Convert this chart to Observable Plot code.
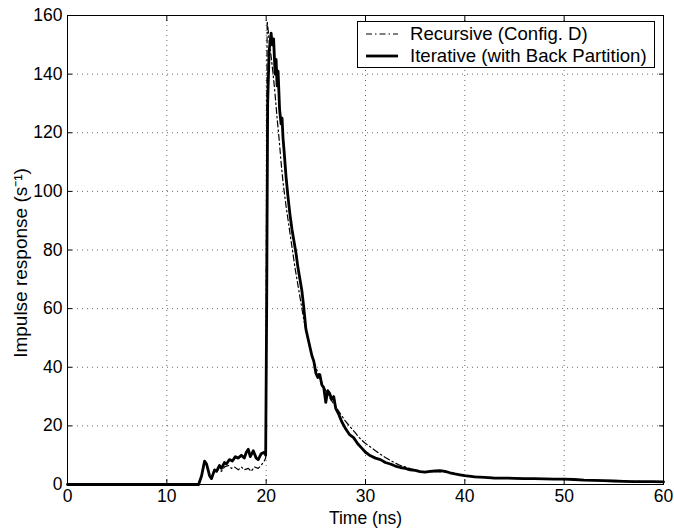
<!DOCTYPE html>
<html><head><meta charset="utf-8">
<script src="https://cdn.jsdelivr.net/npm/d3@7"></script>
<script src="https://cdn.jsdelivr.net/npm/@observablehq/plot@0.6"></script>
<style>
body{margin:0;background:#fff;font-family:"Liberation Sans",Arial,sans-serif;}
#wrap{position:relative;width:674px;height:529px;}
#legend{position:absolute;left:357px;top:21px;width:298px;height:47px;border:1px solid #000;background:#fff;font-size:18.6px;box-sizing:border-box;}
#legend .row{position:absolute;left:6px;height:21px;display:flex;align-items:center;white-space:nowrap;}
#legend svg{margin-right:10px}
</style></head>
<body><div id="wrap"><div id="legend"></div></div>
<script>
const seriesNames = ["Recursive (Config. D)", "Iterative (with Back Partition)"];
const xTicks = [0,10,20,30,40,50,60];
const yTicks = [0,20,40,60,80,100,120,140,160];

const iterT = [0,13.2,13.5,13.8,14.0,14.3,14.5,14.8,15.0,15.3,15.5,15.8,16.0,16.3,16.6,16.9,17.2,17.5,17.8,18.0,18.2,18.4,18.7,19.0,19.2,19.5,19.8,19.95,20.05,20.15,20.3,20.5,20.6,20.75,20.9,21.0,21.1,21.2,21.35,21.5,21.6,21.7,21.8,22.0,22.2,22.4,22.6,22.8,23.0,23.2,23.4,23.6,23.8,24.0,24.2,24.4,24.6,24.8,25.0,25.2,25.4,25.6,25.8,26.0,26.2,26.4,26.6,26.8,27.0,27.3,27.6,28.0,28.4,28.8,29.2,29.6,30.0,30.5,31.0,31.5,32.0,32.5,33.0,33.5,34.0,34.5,35.0,35.5,36.0,36.5,37.0,37.5,38.0,38.5,39.0,39.5,40,41,42,43,44,45,46,47,48,49,50,51,52,53,54,55,56,57,58,59,60];
const iterV = [0,0,3,8,7,3,2,5,4.5,6.5,5.5,7.5,7,8.5,8,9.5,9,10,9,11,12,9.5,11.5,9,8.5,10.5,11,10,60,130,148,154,150,152,140,145,136,141,128,123,125,118,114,105,98,92,87,83,79,74,70,66,60,53,50,47,44,42,38,36.5,37.5,34,33,28,32,31,29,30,26,24,21.5,19,17,16,14,12.5,11,9.8,9,8.5,7.5,7,6.3,5.8,5.5,5,4.8,4.4,4.2,4.5,4.6,4.7,4.5,4,3.6,3.3,3,2.6,2.4,2.2,2.2,2.1,2.0,2.0,1.9,1.8,1.8,1.7,1.5,1.4,1.3,1.2,1.1,1.0,1.0,1.0,0.9];

const recT = [0,13.2,13.5,13.8,14.0,14.3,14.5,14.8,15.2,15.5,15.8,16.2,16.5,16.8,17.2,17.5,17.8,18.2,18.5,18.8,19.2,19.5,19.8,19.95,20.02,20.1,20.2,20.35,20.5,20.7,20.9,21.1,21.3,21.5,21.7,22.0,22.3,22.6,22.9,23.2,23.5,23.8,24.1,24.4,24.7,25.0,25.5,26.0,26.5,27.0,27.5,28.0,28.5,29.0,29.5,30.0,30.5,31.0,31.5,32.0,32.5,33.0,33.5,34.0,34.5,35.0,35.5,36,37,38,39,40,42,44,46,48,50,52,54,56,58,60];
const recV = [0,0,3,7.5,7,3,2.5,4.5,5,4.5,6,6.5,5.5,6,5,6,5,5.5,4.5,6,5.5,6.5,8,9,80,158,155,150,146,140,133,125,118,110,103,95,88,81,74,68,62,56,51,47,43,40,35.5,32,29,26.5,24,21.5,19.5,17.5,15.5,14,12.8,11.5,10.3,9.2,8.2,7.3,6.5,6,5.4,5,4.6,4.3,4.4,4.3,3.7,3.1,2.5,2.2,2.0,1.9,1.8,1.5,1.3,1.1,1.0,0.9];

const iter = iterT.map((t,i)=>({t, v: iterV[i]}));
const rec = recT.map((t,i)=>({t, v: recV[i]}));

const fs = 17.5;
const chart = Plot.plot({
  width: 674, height: 529,
  marginLeft: 67, marginRight: 11, marginTop: 15, marginBottom: 45,
  style: {fontSize: fs + "px", fontFamily: "Liberation Sans, Arial, sans-serif", color: "#000", background: "#fff"},
  x: {domain: [0,60], ticks: xTicks, label: null},
  y: {domain: [0,160], ticks: yTicks, label: null},
  marks: [
    Plot.gridX(xTicks.slice(1,-1), {stroke: "#000", strokeOpacity: 0.6, strokeDasharray: "1,4"}),
    Plot.gridY(yTicks.slice(1,-1), {stroke: "#000", strokeOpacity: 0.6, strokeDasharray: "1,4"}),
    Plot.lineY(rec, {x: "t", y: "v", stroke: "#000", strokeWidth: 1.2, strokeDasharray: "6,3,1.5,3"}),
    Plot.lineY(iter, {x: "t", y: "v", stroke: "#000", strokeWidth: 2.8, strokeLinejoin: "round"}),
    Plot.frame({stroke: "#000", strokeWidth: 1}),
    Plot.axisX(xTicks, {anchor: "bottom", tickSize: 0, tickPadding: 5, label: null, fontSize: fs}),
    Plot.axisX(xTicks, {anchor: "bottom", tickSize: -5, tickFormat: () => "", label: null}),
    Plot.axisX(xTicks, {anchor: "top", tickSize: -5, tickFormat: () => "", label: null}),
    Plot.axisY(yTicks, {anchor: "left", tickSize: 0, tickPadding: 5, label: null, fontSize: fs}),
    Plot.axisY(yTicks, {anchor: "left", tickSize: -5, tickFormat: () => "", label: null}),
    Plot.axisY(yTicks, {anchor: "right", tickSize: -5, tickFormat: () => "", label: null}),
    Plot.text(["Time (ns)"], {frameAnchor: "bottom", dy: 39, fontSize: fs}),
    Plot.text(["Impulse response (s⁻¹)"], {frameAnchor: "left", textAnchor: "middle", dx: -47, dy: 13, rotate: -90, fontSize: 19})
  ]
});
document.getElementById("wrap").prepend(chart);

const leg = document.getElementById("legend");
const dashes = ["6,3,1.5,3", null];
const widths = [1.2, 2.8];
seriesNames.forEach((name, i) => {
  const row = document.createElement("div");
  row.className = "row";
  row.style.top = (i === 0 ? 1 : 23) + "px";
  row.innerHTML = `<svg width="36" height="10"><line x1="2" x2="34" y1="5" y2="5" stroke="#000" stroke-width="${widths[i]}" ${dashes[i] ? `stroke-dasharray="${dashes[i]}"` : ""}/></svg><span>${name}</span>`;
  leg.appendChild(row);
});
</script></body></html>
